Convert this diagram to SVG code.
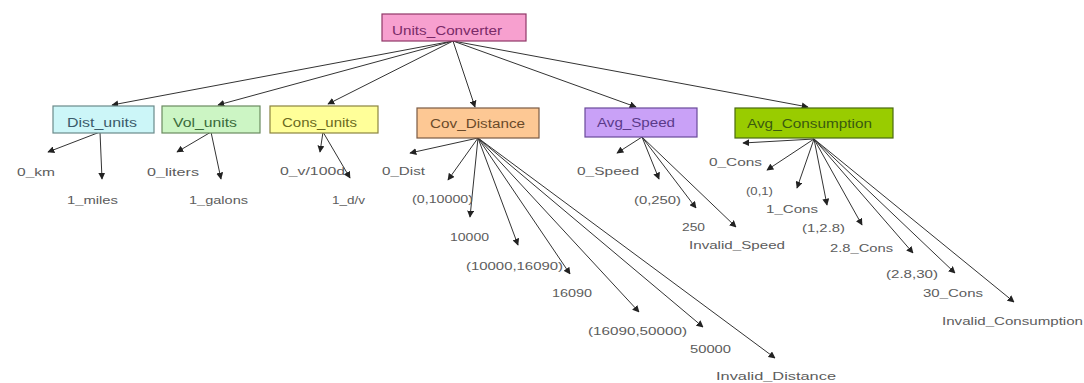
<svg xmlns="http://www.w3.org/2000/svg" width="1084" height="383" viewBox="0 0 1084 383">
<defs>
<style>
text{font-family:"Liberation Sans",Arial,sans-serif;font-size:11px;fill:#5c5c5c}
.bt{font-size:12px}
.box{stroke-width:1.2}
.c line{stroke:#333;stroke-width:1;marker-end:url(#ah)}
</style>
<marker id="ah" viewBox="0 0 10 10" refX="9" refY="5" markerWidth="7" markerHeight="7" markerUnits="userSpaceOnUse" orient="auto"><path d="M0,0 L10,5 L0,10 z" fill="#222"/></marker>
</defs>
<rect width="1084" height="383" fill="#fff"/>
<g class="c" id="connectors">
<line x1="453" y1="41" x2="112" y2="105"/>
<line x1="453" y1="41" x2="218" y2="105"/>
<line x1="453" y1="41" x2="328" y2="104"/>
<line x1="453" y1="41" x2="475" y2="107"/>
<line x1="453" y1="41" x2="636" y2="107"/>
<line x1="453" y1="41" x2="808" y2="107"/>
<line x1="100" y1="132" x2="48" y2="152"/>
<line x1="100" y1="132" x2="102" y2="179"/>
<line x1="211" y1="132" x2="177" y2="152"/>
<line x1="211" y1="132" x2="221" y2="179"/>
<line x1="323" y1="132" x2="320" y2="152"/>
<line x1="323" y1="132" x2="350" y2="178"/>
<line x1="478" y1="138" x2="410" y2="153"/>
<line x1="478" y1="138" x2="448" y2="180"/>
<line x1="478" y1="138" x2="470" y2="217"/>
<line x1="478" y1="138" x2="518" y2="245"/>
<line x1="478" y1="138" x2="570" y2="274"/>
<line x1="478" y1="138" x2="639" y2="312"/>
<line x1="478" y1="138" x2="703" y2="327"/>
<line x1="478" y1="138" x2="775" y2="358"/>
<line x1="642" y1="137" x2="617" y2="153"/>
<line x1="642" y1="137" x2="659" y2="179"/>
<line x1="642" y1="137" x2="696" y2="208"/>
<line x1="642" y1="137" x2="736" y2="227"/>
<line x1="814" y1="139" x2="743" y2="143"/>
<line x1="814" y1="139" x2="767" y2="170"/>
<line x1="814" y1="139" x2="797" y2="188"/>
<line x1="814" y1="139" x2="827" y2="205"/>
<line x1="814" y1="139" x2="862" y2="225"/>
<line x1="814" y1="139" x2="913" y2="253"/>
<line x1="814" y1="139" x2="955" y2="273"/>
<line x1="814" y1="139" x2="1014" y2="302"/>
</g>
<g id="units_converter"><rect class="box" x="382" y="14" width="144" height="27" fill="#f7a0cf" stroke="#903868"/><text class="bt" x="392" y="35" textLength="110" lengthAdjust="spacingAndGlyphs" style="fill:#7a2a68">Units_Converter</text></g>
<g id="dist_units"><rect class="box" x="53" y="106" width="101" height="27" fill="#ccf6f8" stroke="#6a8a8a"/><text class="bt" x="67" y="127" textLength="70" lengthAdjust="spacingAndGlyphs" style="fill:#3a5a6a">Dist_units</text></g>
<g id="vol_units"><rect class="box" x="162" y="106" width="98" height="27" fill="#ccf5c4" stroke="#6a8a60"/><text class="bt" x="173" y="127" textLength="64" lengthAdjust="spacingAndGlyphs" style="fill:#3a6a3a">Vol_units</text></g>
<g id="cons_units"><rect class="box" x="270" y="106" width="108" height="27" fill="#ffff99" stroke="#8a8440"/><text class="bt" x="282" y="127" textLength="75" lengthAdjust="spacingAndGlyphs" style="fill:#6a6a20">Cons_units</text></g>
<g id="cov_distance"><rect class="box" x="417" y="108" width="122" height="30" fill="#fdc894" stroke="#7a5a44"/><text class="bt" x="430" y="128" textLength="95" lengthAdjust="spacingAndGlyphs" style="fill:#6a4a2a">Cov_Distance</text></g>
<g id="avg_speed"><rect class="box" x="585" y="108" width="112" height="29" fill="#c9a1f7" stroke="#6a4a9a"/><text class="bt" x="597" y="127" textLength="78" lengthAdjust="spacingAndGlyphs" style="fill:#5a3a8a">Avg_Speed</text></g>
<g id="avg_consumption"><rect class="box" x="735" y="108" width="158" height="30" fill="#99cc00" stroke="#4a6a10"/><text class="bt" x="747" y="128" textLength="125" lengthAdjust="spacingAndGlyphs" style="fill:#3a5a10">Avg_Consumption</text></g>
<g id="leaf_0_km"><text x="17" y="176" textLength="38" lengthAdjust="spacingAndGlyphs">0_km</text></g>
<g id="leaf_1_miles"><text x="67" y="204" textLength="51" lengthAdjust="spacingAndGlyphs">1_miles</text></g>
<g id="leaf_0_liters"><text x="147" y="176" textLength="52" lengthAdjust="spacingAndGlyphs">0_liters</text></g>
<g id="leaf_1_galons"><text x="189" y="204" textLength="59" lengthAdjust="spacingAndGlyphs">1_galons</text></g>
<g id="leaf_0_v100d"><text x="280" y="175" textLength="65" lengthAdjust="spacingAndGlyphs">0_v/100d</text></g>
<g id="leaf_1_dv"><text x="332" y="204" textLength="33" lengthAdjust="spacingAndGlyphs">1_d/v</text></g>
<g id="leaf_0_dist"><text x="382" y="175" textLength="43" lengthAdjust="spacingAndGlyphs">0_Dist</text></g>
<g id="leaf_0_10000"><text x="412" y="203" textLength="61" lengthAdjust="spacingAndGlyphs">(0,10000)</text></g>
<g id="leaf_10000"><text x="450" y="241" textLength="39" lengthAdjust="spacingAndGlyphs">10000</text></g>
<g id="leaf_10000_16090"><text x="466" y="270" textLength="97" lengthAdjust="spacingAndGlyphs">(10000,16090)</text></g>
<g id="leaf_16090"><text x="552" y="297" textLength="40" lengthAdjust="spacingAndGlyphs">16090</text></g>
<g id="leaf_16090_50000"><text x="588" y="335" textLength="99" lengthAdjust="spacingAndGlyphs">(16090,50000)</text></g>
<g id="leaf_50000"><text x="690" y="353" textLength="41" lengthAdjust="spacingAndGlyphs">50000</text></g>
<g id="leaf_invalid_distance"><text x="716" y="380" textLength="120" lengthAdjust="spacingAndGlyphs">Invalid_Distance</text></g>
<g id="leaf_0_speed"><text x="577" y="175" textLength="62" lengthAdjust="spacingAndGlyphs">0_Speed</text></g>
<g id="leaf_0_250"><text x="634" y="204" textLength="47" lengthAdjust="spacingAndGlyphs">(0,250)</text></g>
<g id="leaf_250"><text x="682" y="231" textLength="23" lengthAdjust="spacingAndGlyphs">250</text></g>
<g id="leaf_invalid_speed"><text x="689" y="249" textLength="96" lengthAdjust="spacingAndGlyphs">Invalid_Speed</text></g>
<g id="leaf_0_cons"><text x="709" y="166" textLength="53" lengthAdjust="spacingAndGlyphs">0_Cons</text></g>
<g id="leaf_0_1"><text x="746" y="195" textLength="27" lengthAdjust="spacingAndGlyphs">(0,1)</text></g>
<g id="leaf_1_cons"><text x="766" y="213" textLength="52" lengthAdjust="spacingAndGlyphs">1_Cons</text></g>
<g id="leaf_1_2_8"><text x="802" y="232" textLength="43" lengthAdjust="spacingAndGlyphs">(1,2.8)</text></g>
<g id="leaf_2_8_cons"><text x="830" y="252" textLength="63" lengthAdjust="spacingAndGlyphs">2.8_Cons</text></g>
<g id="leaf_2_8_30"><text x="886" y="278" textLength="52" lengthAdjust="spacingAndGlyphs">(2.8,30)</text></g>
<g id="leaf_30_cons"><text x="923" y="297" textLength="60" lengthAdjust="spacingAndGlyphs">30_Cons</text></g>
<g id="leaf_invalid_consumption"><text x="942" y="325" textLength="141" lengthAdjust="spacingAndGlyphs">Invalid_Consumption</text></g>
</svg>
